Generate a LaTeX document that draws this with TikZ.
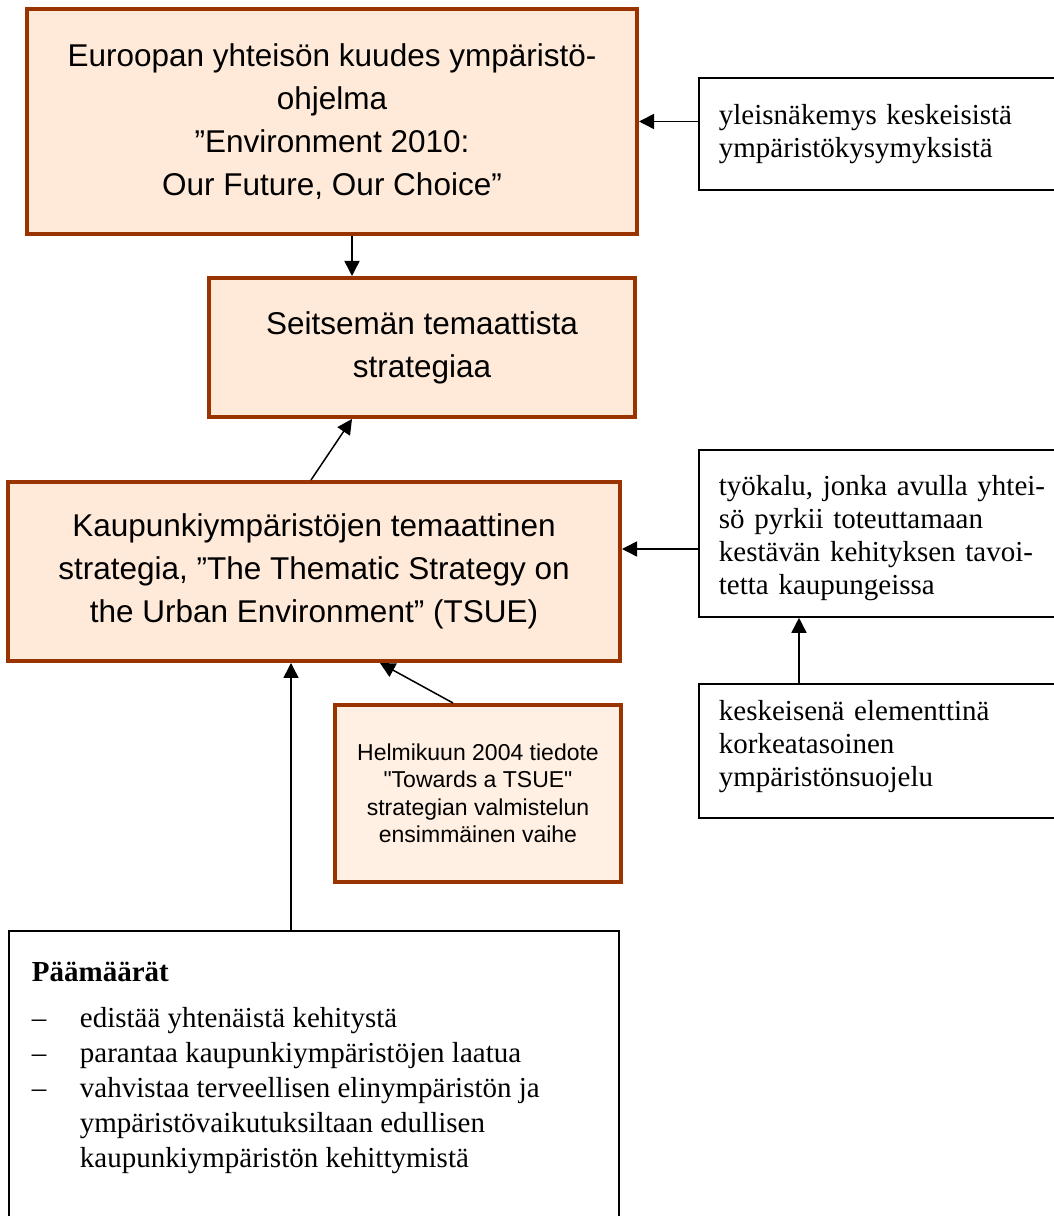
\documentclass[tikz,border=0pt]{standalone}
\usepackage{fontspec}
\setmainfont{Liberation Serif}
\newfontfamily\arialf{Liberation Sans}
\usetikzlibrary{arrows.meta,calc}
\definecolor{brd}{HTML}{993300}
\definecolor{peach}{HTML}{FFEAD9}
\definecolor{peachlt}{HTML}{FFF0E3}
\begin{document}
\begin{tikzpicture}[x=1pt,y=1pt,
  obox/.style={draw=brd, line width=4pt, fill=peach, align=center, inner sep=0pt,
    font=\arialf\fontsize{31.5}{43}\selectfont},
  wbox/.style={draw=black, line width=1.8pt, fill=white, anchor=north west, align=left,
    inner xsep=20pt, inner ysep=0pt, text width=332pt, font=\fontsize{29}{33}\selectfont},
  arr/.style={line width=1.5pt, -{Triangle[length=15pt,width=15pt]}}]
\useasboundingbox[fill=white] (0,0) rectangle (1053,1216);

% orange boxes
\node[obox, minimum width=610pt, minimum height=225pt] (b1) at (332,1094.5)
  {Euroopan yhteisön kuudes ympäristö-\\ohjelma\\”Environment 2010:\\Our Future, Our Choice”};
\node[obox, minimum width=426pt, minimum height=139pt] (b2) at (422,868.5)
  {Seitsemän temaattista\\strategiaa};
\node[obox, minimum width=612pt, minimum height=179pt] (b3) at (314,644.5)
  {Kaupunkiympäristöjen temaattinen\\strategia, ”The Thematic Strategy on\\the Urban Environment” (TSUE)};
\node[obox, fill=peachlt, minimum width=286pt, minimum height=177pt,
  font=\arialf\fontsize{23}{27.5}\selectfont] (he) at (478,422.5)
  {Helmikuun 2004 tiedote\\"Towards a TSUE"\\strategian valmistelun\\ensimmäinen vaihe};

% white boxes
\node[wbox, minimum height=112pt] (yl) at (698,1139)
  {yleisnäkemys keskeisistä\\ympäristökysymyksistä};
\node[wbox, minimum height=167pt] (ty) at (698,767)
  {\rule{0pt}{30pt}työkalu, jonka avulla yhtei-\\sö pyrkii toteuttamaan\\kestävän kehityksen tavoi-\\tetta kaupungeissa};
\node[wbox, minimum height=134pt] (ke) at (698,533)
  {keskeisenä elementtinä\\korkeatasoinen\\ympäristönsuojelu\rule[-14pt]{0pt}{14pt}};

\node[draw=black, line width=1.8pt, fill=white, anchor=north west, inner sep=0pt,
  font=\fontsize{29}{35}\selectfont] (pa) at (8,286)
  {\begin{minipage}[t][330pt][t]{610pt}
   \vspace*{31pt}%
   \hspace*{23pt}\textbf{Päämäärät}\par\vspace{11pt}
   \hspace*{23pt}\makebox[48pt][l]{–}edistää yhtenäistä kehitystä\par
   \hspace*{23pt}\makebox[48pt][l]{–}parantaa kaupunkiympäristöjen laatua\par
   \hspace*{23pt}\makebox[48pt][l]{–}vahvistaa terveellisen elinympäristön ja\par
   \hspace*{71pt}ympäristövaikutuksiltaan edullisen\par
   \hspace*{71pt}kaupunkiympäristön kehittymistä\par
   \end{minipage}};

% connectors
\coordinate (yA) at (0,667);
\coordinate (kx) at (799,0);
\coordinate (px) at (291,0);
\coordinate (ax) at (352,0);
\draw[arr] (b1.east -| yl.west) -- (b1.east);
\draw[arr] (b1.south -| ax) -- (b2.north -| ax);
\draw[arr] ([xshift=-3pt]b3.north) -- (b2.south -| ax);
\draw[arr] (yA -| ty.west) -- (yA -| b3.east);
\draw[arr] (kx |- ke.north) -- (kx |- ty.south);
\draw[arr] ([xshift=-25pt]he.north) -- ([xshift=66pt]b3.south);
\draw[arr] (px |- pa.north) -- (px |- b3.south);
\end{tikzpicture}
\end{document}
